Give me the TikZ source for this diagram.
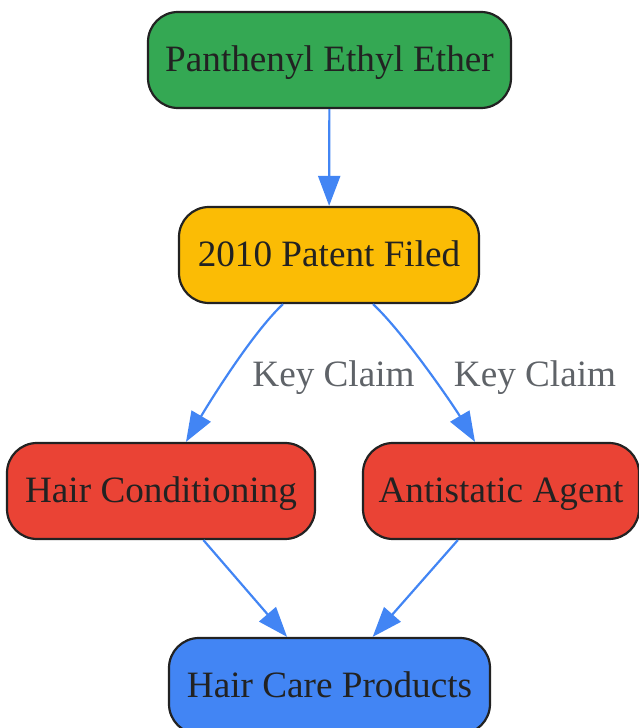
\documentclass[tikz,border=0pt]{standalone}
\usepackage{fontspec}
\setmainfont{Liberation Serif}
\usetikzlibrary{arrows.meta,shapes}
\definecolor{etherGreen}{HTML}{34A853}
\definecolor{patentYellow}{HTML}{FBBC05}
\definecolor{useRed}{HTML}{EA4335}
\definecolor{prodBlue}{HTML}{4285F4}
\definecolor{inkDark}{HTML}{222222}
\definecolor{claimGray}{HTML}{5F6368}
\newcommand{\boxh}{96pt}
\newcommand{\boxfont}{\fontsize{37.2}{44}\selectfont}

\begin{document}
\begin{tikzpicture}[x=1pt,y=1pt,
    stepbox/.style={draw=inkDark, line width=2.2pt, rounded corners=30pt,
        minimum height=\boxh, inner xsep=0pt, font=\boxfont, text=inkDark,
        text height=24pt, text depth=0pt},
    flow/.style={draw=prodBlue, line width=2.2pt,
        -{Triangle[length=30pt,width=22pt,fill=prodBlue]}},
    claim/.style={font=\boxfont, text=claimGray, inner sep=0pt,
        text height=24pt, text depth=0pt}]
    %\draw[help lines] (0,0) grid (639,728);
    \useasboundingbox (0,0) rectangle (639,728);
    \node[stepbox, fill=etherGreen, minimum width=363pt] (ether) at (329.5,668) {Panthenyl Ethyl Ether};
    \node[stepbox, fill=patentYellow, minimum width=300pt] (patent) at (329,473) {2010 Patent Filed};
    \node[stepbox, fill=useRed, minimum width=308pt] (cond) at (161,237) {Hair Conditioning};
    \node[stepbox, fill=useRed, minimum width=276pt] (anti) at (501,237) {Antistatic Agent};
    \node[stepbox, fill=prodBlue, minimum width=321pt] (prod) at (329.5,42) {Hair Care Products};
    \node[claim] (claimL) at (333.5,353) {Key Claim};
    \node[claim] (claimR) at (535,353) {Key Claim};
    \draw[flow] (ether) -- (patent);
    \draw[flow] ([xshift=-46pt]patent.south) .. controls +(-32,-30) and +(20,34) .. ([xshift=25pt]cond.north);
    \draw[flow] ([xshift=44pt]patent.south) .. controls +(32,-30) and +(-20,34) .. ([xshift=-26pt]anti.north);
    \draw[flow] (cond) -- (prod);
    \draw[flow] (anti) -- (prod);
\end{tikzpicture}
\end{document}
